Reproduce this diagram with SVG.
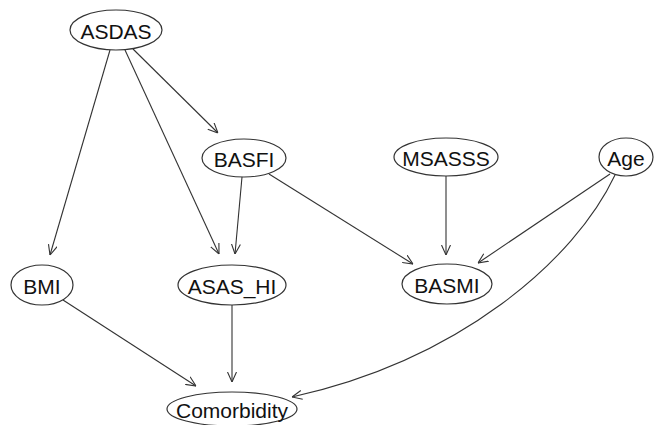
<svg xmlns="http://www.w3.org/2000/svg" width="654" height="425" viewBox="0 0 654 425">
<style>
.n ellipse{fill:#fff;stroke:#333;stroke-width:1.2}
.n text{font-family:"Liberation Sans",Arial,sans-serif;font-size:21px;fill:#111;text-anchor:middle}
.e path{fill:none;stroke:#333;stroke-width:1.1;marker-end:url(#arr)}
</style>
<defs>
<marker id="arr" viewBox="0 0 10 10" refX="10" refY="5" markerWidth="10" markerHeight="10" markerUnits="userSpaceOnUse" orient="auto">
<path d="M0,0.5 L10,5 L0,9.5" fill="none" stroke="#333" stroke-width="1.1"/>
</marker>
</defs>
<rect width="654" height="425" fill="#fff"/>
<g id="edges" class="e">
<path d="M110,50 L50,255"/>
<path d="M125,50 L219,254"/>
<path d="M133,49 L218,133"/>
<path d="M242,177 L235,254"/>
<path d="M269,174 L413,264"/>
<path d="M446,176 L446,255"/>
<path d="M610,174 L478,263"/>
<path d="M615,175 C575,260 460,360 292,397"/>
<path d="M63,300 L196,386"/>
<path d="M232,305 L232,382"/>
</g>
<g id="ASDAS" class="n"><ellipse cx="116" cy="30" rx="46" ry="20"/><text x="116" y="39">ASDAS</text></g>
<g id="BASFI" class="n"><ellipse cx="244" cy="158" rx="42" ry="19"/><text x="244" y="167">BASFI</text></g>
<g id="MSASSS" class="n"><ellipse cx="446" cy="157" rx="52" ry="19"/><text x="446" y="166">MSASSS</text></g>
<g id="Age" class="n"><ellipse cx="626" cy="157" rx="27" ry="19"/><text x="626" y="166">Age</text></g>
<g id="BMI" class="n"><ellipse cx="42" cy="285" rx="31" ry="20"/><text x="42" y="294">BMI</text></g>
<g id="ASAS_HI" class="n"><ellipse cx="232" cy="285" rx="54" ry="20"/><text x="232" y="294">ASAS_HI</text></g>
<g id="BASMI" class="n"><ellipse cx="447" cy="284" rx="45" ry="20"/><text x="447" y="293">BASMI</text></g>
<g id="Comorbidity" class="n"><ellipse cx="232" cy="409" rx="65" ry="17"/><text x="232" y="418">Comorbidity</text></g>
</svg>
